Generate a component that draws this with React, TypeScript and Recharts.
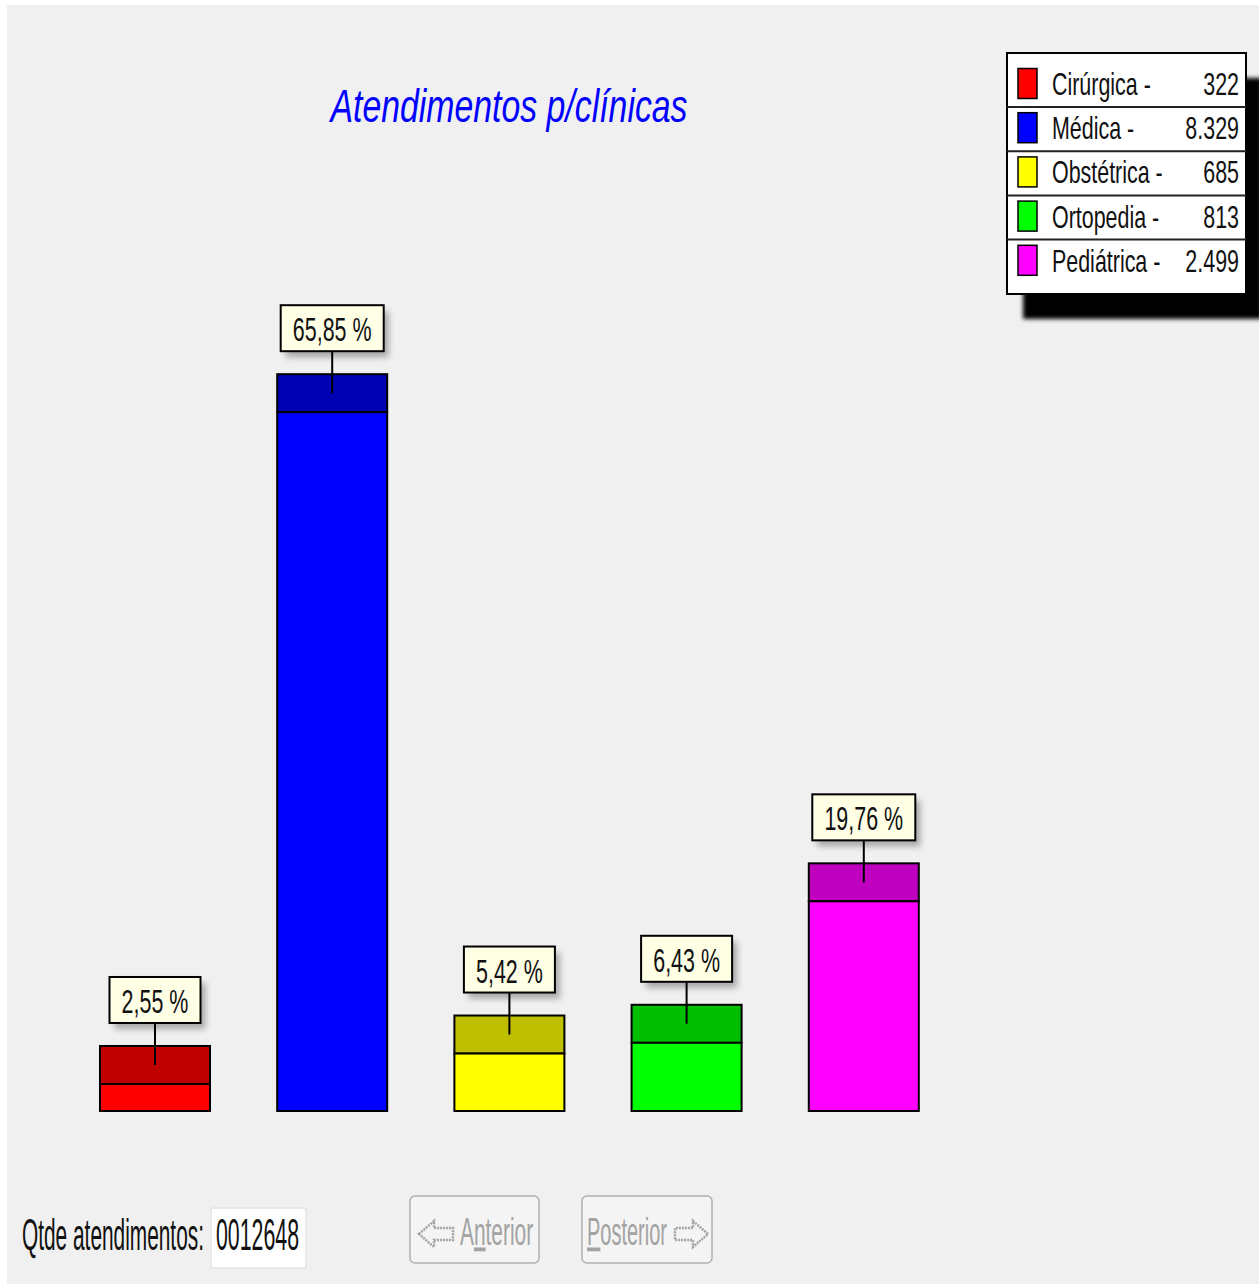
import React from 'react';
import { BarChart, Bar, XAxis, YAxis, LabelList } from 'recharts';

// dados do gráfico
const categories = ['Cirúrgica', 'Médica', 'Obstétrica', 'Ortopedia', 'Pediátrica'];
const atendimentos = [322, 8329, 685, 813, 2499];
const barColors = ['#ff0000', '#0000ff', '#ffff00', '#00ff00', '#ff00ff'];
const capColors = ['#bf0000', '#0000b4', '#bfbf00', '#00bf00', '#bf00bf'];
const yDomain = [0, 10000];

const total = atendimentos.reduce((a, b) => a + b, 0);
const data = categories.map((name, i) => ({ name, value: atendimentos[i] }));

const W = 1252;
const H = 1279;
const CAP = 38;
const FONT = '"Liberation Sans", Arial, sans-serif';

const fmtThousands = (n: number) => String(n).replace(/\B(?=(\d{3})+(?!\d))/g, '.');
const fmtPct = (v: number) => ((v / total) * 100).toFixed(2).replace('.', ',') + ' %';

// texto estreito (a fonte original é bem condensada)
const NarrowText = ({ x, y, size, sx, anchor = 'start', fill = '#111', italic = false, children }: any) => (
  <text
    transform={`translate(${x},${y}) scale(${sx},1)`}
    textAnchor={anchor}
    fontFamily={FONT}
    fontSize={size}
    fontStyle={italic ? 'italic' : 'normal'}
    fill={fill}
  >
    {children}
  </text>
);

const CapBar = (props: any) => {
  const { x, y, width, height } = props;
  let idx = props.index;
  if (idx === undefined) idx = categories.indexOf(props.payload?.name);
  return (
    <g>
      <rect x={x} y={y - CAP} width={width} height={CAP} fill={capColors[idx]} stroke="#000" strokeWidth={2} />
      <rect x={x} y={y} width={width} height={height} fill={barColors[idx]} stroke="#000" strokeWidth={2} />
    </g>
  );
};

const PctLabel = (props: any) => {
  const vb = props.viewBox && props.viewBox.x !== undefined ? props.viewBox : props;
  const { x, y, width } = vb;
  const value = Number(props.value);
  const cx = x + width / 2;
  const text = fmtPct(value);
  const bw = 12 * text.length + 19;
  const boxBottom = y - CAP - 23;
  const boxTop = boxBottom - 46;
  return (
    <g>
      <line x1={cx} y1={boxBottom} x2={cx} y2={y - CAP / 2} stroke="#000" strokeWidth={2} />
      <rect x={cx - bw / 2 + 5} y={boxTop + 6} width={bw} height={46} fill="#000" opacity={0.3} filter="url(#blur3)" />
      <rect x={cx - bw / 2} y={boxTop} width={bw} height={46} fill="#ffffe6" stroke="#000" strokeWidth={2} />
      <NarrowText x={cx} y={boxTop + 36} size={33} sx={0.65} anchor="middle">
        {text}
      </NarrowText>
    </g>
  );
};

const Legend = () => {
  const bx = 1000;
  const by = 48;
  const bw = 239;
  const bh = 241;
  return (
    <g>
      <rect x={bx + 16} y={by + 25} width={bw} height={bh} fill="#000" filter="url(#blur2)" />
      <rect x={bx} y={by} width={bw} height={bh} fill="#fff" stroke="#000" strokeWidth={2} />
      {categories.map((name, i) => {
        const cy = 78.5 + 44.2 * i;
        return (
          <g key={name}>
            {i < categories.length - 1 && (
              <line x1={bx} x2={bx + bw} y1={cy + 23.5} y2={cy + 23.5} stroke="#222" strokeWidth={2} />
            )}
            <rect x={1011} y={cy - 15} width={19} height={30} fill={barColors[i]} stroke="#000" strokeWidth={1.5} />
            <NarrowText x={1045} y={cy + 11.5} size={32} sx={0.67}>
              {name} -
            </NarrowText>
            <NarrowText x={1232} y={cy + 11.5} size={32} sx={0.67} anchor="end">
              {fmtThousands(atendimentos[i])}
            </NarrowText>
          </g>
        );
      })}
    </g>
  );
};

const Controls = () => {
  const grey = '#a3a3a3';
  return (
    <g>
      <NarrowText x={15} y={1245} size={44} sx={0.474}>
        Qtde atendimentos:
      </NarrowText>
      <rect x={204} y={1203} width={95} height={60} fill="#fff" stroke="#e3e3e3" strokeWidth={1.5} rx={2} />
      <NarrowText x={209} y={1245} size={44} sx={0.485}>
        {String(total).padStart(7, '0')}
      </NarrowText>

      <rect x={403} y={1191} width={129} height={67} rx={5} fill="#f4f4f4" stroke="#b0b0b0" strokeWidth={1.5} />
      <polygon
        points="412,1229 427,1216 427,1223 446,1223 446,1235 427,1235 427,1242"
        fill="none"
        stroke={grey}
        strokeWidth={2.5}
        strokeDasharray="2 1"
      />
      <text transform="translate(453,1240) scale(0.55,1)" fontFamily={FONT} fontSize={38} fill={grey}>
        A<tspan style={{ textDecoration: 'underline' }}>n</tspan>terior
      </text>

      <rect x={575} y={1191} width={130} height={67} rx={5} fill="#f4f4f4" stroke="#b0b0b0" strokeWidth={1.5} />
      <text transform="translate(580,1240) scale(0.526,1)" fontFamily={FONT} fontSize={38} fill={grey}>
        <tspan style={{ textDecoration: 'underline' }}>P</tspan>osterior
      </text>
      <polygon
        points="701,1229 686,1216 686,1223 668,1223 668,1235 686,1235 686,1242"
        fill="none"
        stroke={grey}
        strokeWidth={2.5}
        strokeDasharray="2 1"
      />
    </g>
  );
};

export default function App() {
  return (
    <div style={{ position: 'absolute', left: 7, top: 5, width: W, height: H, background: '#f0f0f0', overflow: 'hidden' }}>
      <svg width={0} height={0} style={{ position: 'absolute' }}>
        <defs>
          <filter id="blur2" x="-10%" y="-10%" width="120%" height="120%">
            <feGaussianBlur stdDeviation="2" />
          </filter>
          <filter id="blur3" x="-20%" y="-30%" width="140%" height="160%">
            <feGaussianBlur stdDeviation="3" />
          </filter>
        </defs>
      </svg>
      <div style={{ position: 'absolute', left: 0, top: 0 }}>
        <BarChart width={W} height={H} data={data} margin={{ top: 267, right: 307, bottom: 173, left: 59 }}>
          <XAxis dataKey="name" hide />
          <YAxis hide domain={yDomain} />
          <Bar dataKey="value" barSize={110} shape={CapBar} isAnimationActive={false}>
            <LabelList dataKey="value" content={PctLabel} />
          </Bar>
        </BarChart>
      </div>
      <svg width={W} height={H} style={{ position: 'absolute', left: 0, top: 0, pointerEvents: 'none' }}>
        <NarrowText x={502} y={117} size={46} sx={0.735} anchor="middle" fill="#0000ff" italic>
          Atendimentos p/clínicas
        </NarrowText>
        <Legend />
        <Controls />
      </svg>
    </div>
  );
}
